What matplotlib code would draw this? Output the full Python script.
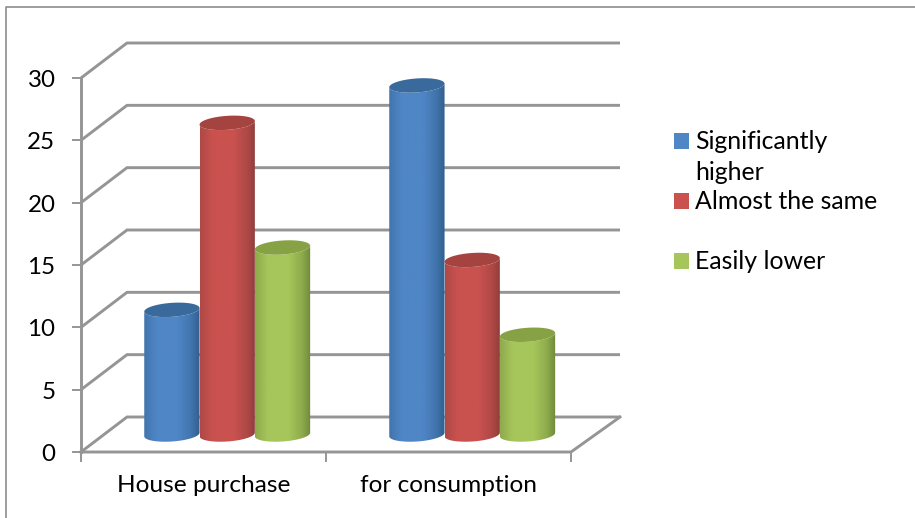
import matplotlib
matplotlib.use('Agg')
import matplotlib.pyplot as plt
import numpy as np
from matplotlib.colors import LinearSegmentedColormap, to_rgb
from matplotlib.patches import Polygon, Rectangle

categories = ['House purchase', 'for consumption']
series_names = ['Significantly\nhigher', 'Almost the same', 'Easily lower']
significantly_higher = [10, 28]
almost_the_same = [25, 14]
easily_lower = [15, 8]
yticks = [0, 5, 10, 15, 20, 25, 30]

W, H = 915, 518
plt.rcParams['font.family'] = ['Lato', 'DejaVu Sans']

fig = plt.figure(figsize=(W / 100, H / 100), dpi=100)
# plot box is the front face of the 3d box, in pixels
left, right, top, bottom = 81, 571, 78, 452
ax = fig.add_axes([left / W, 1 - bottom / H, (right - left) / W, (bottom - top) / H])
ax.set_xlim(0, 2)
ax.set_ylim(0, 30)
ax.patch.set_visible(False)
for s in ax.spines.values():
    s.set_visible(False)
ax.set_xticks([])
ax.set_yticks([])

# depth of the box in data units
dx = 46 / 245
dy = 35 / (374 / 30)
back_end = 2 + 49 / 245
grid = '#959595'
lw = 2.1

for v in yticks:
    ax.plot([0, dx, back_end], [v, v + dy, v + dy], color=grid, lw=lw, clip_on=False, zorder=1,
            solid_capstyle='butt', solid_joinstyle='miter')
    ax.plot([-8 / 245, 0], [v, v], color=grid, lw=1.4, clip_on=False, zorder=1)
ax.plot([0, 0], [0, 30], color=grid, lw=lw, clip_on=False, zorder=1)
ax.plot([0, 2, back_end], [0, 0, dy], color=grid, lw=lw, clip_on=False, zorder=1)
for c in [0, 1, 2]:
    ax.plot([c, c], [0, -0.75], color=grid, lw=1.4, clip_on=False, zorder=1)

bar_w = 55.3 / 245
ell_h = 7.0 / (374 / 30)
skew = 1.8 / (374 / 30)
shades = [('#31608f', '#4f86c6', '#3a6a9b'),
          ('#8f3d3b', '#c9524f', '#a54341'),
          ('#6f8a3a', '#a6c65b', '#86a244')]
values = [significantly_higher, almost_the_same, easily_lower]
t = np.linspace(0, 2 * np.pi, 90)
for i, vals in enumerate(values):
    edge, mid, cap = shades[i]
    soft = tuple(0.45 * np.array(to_rgb(edge)) + 0.55 * np.array(to_rgb(mid)))
    cmap = LinearSegmentedColormap.from_list(
        'c', [(0, soft), (0.22, mid), (0.6, mid), (0.85, soft), (1, edge)])
    for j, v in enumerate(vals):
        cx = j + 0.5 + dx / 2 + 0.7 / 245 + (i - 1) * bar_w
        base = dy / 2
        # outline: lower half of the base, then lower half of top traced backwards
        a = bar_w / 2
        lo = np.linspace(np.pi, 2 * np.pi, 45)
        x_lo = cx + a * np.cos(lo)
        y_lo = base + ell_h * np.sin(lo) + skew * np.cos(lo)
        x_up = cx + a * np.cos(lo[::-1])
        y_up = base + v + ell_h * np.sin(lo[::-1]) + skew * np.cos(lo[::-1])
        body = Polygon(np.c_[np.r_[x_lo, x_up], np.r_[y_lo, y_up]], closed=True,
                       fc='none', ec='none', transform=ax.transData)
        ax.add_patch(body)
        im = ax.imshow(np.linspace(0, 1, 64).reshape(1, -1), cmap=cmap, aspect='auto',
                       extent=[cx - a, cx + a, 0, 30], zorder=3 + i + j * 5, clip_on=True)
        im.set_clip_path(body)
        ax.add_patch(Polygon(np.c_[cx + a * np.cos(t),
                                   base + v + ell_h * np.sin(t) + skew * np.cos(t)],
                             closed=True, fc=cap, ec='none', zorder=3.5 + i + j * 5,
                             clip_on=False))
ax.set_xlim(0, 2)
ax.set_ylim(0, 30)

fs = 17.4
for v in yticks:
    ax.annotate(str(v), (0, v), xytext=(-25.5, -2.5), textcoords='offset pixels', ha='right',
                va='center', fontsize=fs, color='black', annotation_clip=False)
for c, name in enumerate(categories):
    ax.annotate(name, (c + 0.5, 0), xytext=(0, -33.5), textcoords='offset pixels', ha='center',
                va='center', fontsize=fs + 0.2, color='black', annotation_clip=False)


def px(x, y):
    return x / W, 1 - y / H


# legend
legend_y = [141, 201, 261]
fs_leg = 17.9
for y, name, sh in zip(legend_y, series_names, shades):
    x0, y0 = px(674, y + 7.5)
    fig.add_artist(Rectangle((x0, y0), 15 / W, 15 / H, transform=fig.transFigure,
                             fc=sh[1], ec='none'))
    xt, yt = px(695, y + 0.5)
    if '\n' in name:
        a, b = name.split('\n')
        fig.text(xt, yt, a, fontsize=fs_leg, va='center')
        fig.text(*px(695, y + 32), b, fontsize=fs_leg, va='center')
    else:
        fig.text(xt, yt, name, fontsize=fs_leg, va='center')

# outer frame of the picture
frame = '#8c8c8c'
fig.add_artist(plt.Line2D([6 / W, 6 / W, 1], [0, 1 - 7 / H, 1 - 7 / H], color=frame, lw=1.2,
                          transform=fig.transFigure))

fig.savefig('out.png', dpi=100)
